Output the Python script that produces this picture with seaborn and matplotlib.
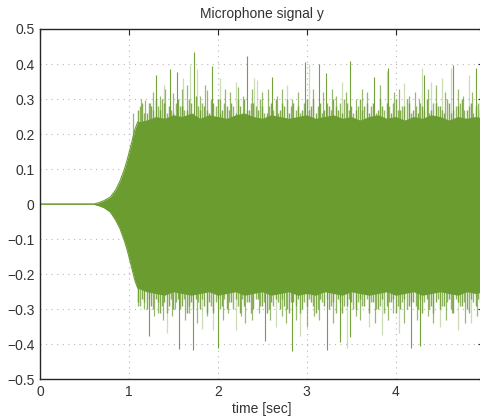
import numpy as np
import pandas as pd
import matplotlib
matplotlib.use("Agg")
import matplotlib.pyplot as plt
import seaborn as sns

# solid envelope of the dense part of the signal
env_t = [0.0, 0.60, 0.66, 0.72, 0.79, 0.85, 0.90, 0.95, 0.98, 1.01, 1.04, 1.07, 1.10,
         1.2, 1.3, 1.4, 1.5, 1.6, 1.7, 1.8, 1.9, 2.0, 2.1, 2.2, 2.3, 2.4, 2.5, 2.6, 2.7, 2.8, 2.9,
         3.0, 3.1, 3.2, 3.3, 3.4, 3.5, 3.6, 3.7, 3.8, 3.9, 4.0, 4.1, 4.2, 4.3, 4.4, 4.5, 4.6, 4.7,
         4.8, 4.9, 5.0]
env_up = [0.0, 0.0, 0.004, 0.010, 0.020, 0.040, 0.066, 0.100, 0.126, 0.155, 0.185, 0.215, 0.235,
          0.24, 0.25, 0.245, 0.255, 0.25, 0.26, 0.245, 0.255, 0.25, 0.245, 0.255, 0.26, 0.25, 0.245,
          0.255, 0.25, 0.245, 0.25, 0.255, 0.245, 0.25, 0.255, 0.245, 0.25, 0.24, 0.25, 0.255, 0.245,
          0.25, 0.24, 0.25, 0.245, 0.255, 0.25, 0.24, 0.25, 0.245, 0.25, 0.245]
env_lo = [0.0, 0.0, -0.004, -0.010, -0.022, -0.045, -0.070, -0.105, -0.130, -0.160, -0.190, -0.220, -0.240,
          -0.25, -0.255, -0.26, -0.25, -0.255, -0.26, -0.255, -0.25, -0.26, -0.255, -0.25, -0.26, -0.255,
          -0.25, -0.26, -0.255, -0.25, -0.26, -0.255, -0.26, -0.25, -0.255, -0.26, -0.25, -0.255, -0.26,
          -0.255, -0.25, -0.26, -0.255, -0.25, -0.26, -0.255, -0.25, -0.255, -0.26, -0.25, -0.255, -0.25]

# ragged hair along the band edge, one peak every 0.05 s from 1.10 s
up_edge = [0.27, 0.29, 0.26, 0.28, 0.30, 0.27, 0.29, 0.28, 0.26, 0.30,
           0.28, 0.27, 0.29, 0.31, 0.27, 0.28, 0.26, 0.29, 0.30, 0.27,
           0.28, 0.29, 0.26, 0.28, 0.30, 0.27, 0.29, 0.27, 0.28, 0.26,
           0.29, 0.30, 0.27, 0.28, 0.26, 0.29, 0.28, 0.27, 0.30, 0.28,
           0.26, 0.29, 0.27, 0.28, 0.30, 0.27, 0.26, 0.29, 0.28, 0.27,
           0.30, 0.28, 0.26, 0.29, 0.27, 0.28, 0.29, 0.26, 0.30, 0.27,
           0.28, 0.29, 0.27, 0.26, 0.28, 0.30, 0.27, 0.29, 0.28, 0.26,
           0.29, 0.27, 0.28, 0.30, 0.27, 0.29, 0.28, 0.27]
up_edge2 = [0.28, 0.26, 0.29, 0.27, 0.28, 0.30, 0.26, 0.27, 0.29, 0.28,
            0.27, 0.30, 0.26, 0.28, 0.29, 0.27, 0.30, 0.28, 0.26, 0.29,
            0.27, 0.28, 0.30, 0.26, 0.27, 0.29, 0.28, 0.30, 0.26, 0.28,
            0.27, 0.26, 0.29, 0.30, 0.28, 0.27, 0.26, 0.29, 0.27, 0.30,
            0.28, 0.26, 0.29, 0.27, 0.28, 0.29, 0.30, 0.27, 0.26, 0.28,
            0.27, 0.29, 0.28, 0.26, 0.30, 0.27, 0.28, 0.29, 0.27, 0.28,
            0.30, 0.26, 0.28, 0.29, 0.27, 0.26, 0.29, 0.28, 0.27, 0.30,
            0.26, 0.28, 0.29, 0.27, 0.28, 0.26, 0.29, 0.28]
lo_edge = [-0.28, -0.27, -0.30, -0.29, -0.27, -0.31, -0.28, -0.29, -0.30, -0.27,
           -0.29, -0.31, -0.28, -0.27, -0.30, -0.29, -0.28, -0.31, -0.27, -0.29,
           -0.30, -0.28, -0.27, -0.31, -0.29, -0.28, -0.30, -0.27, -0.29, -0.31,
           -0.28, -0.27, -0.30, -0.29, -0.31, -0.28, -0.27, -0.30, -0.29, -0.28,
           -0.31, -0.27, -0.29, -0.30, -0.28, -0.27, -0.31, -0.29, -0.28, -0.30,
           -0.27, -0.29, -0.31, -0.28, -0.30, -0.27, -0.29, -0.28, -0.31, -0.30,
           -0.27, -0.29, -0.28, -0.30, -0.31, -0.27, -0.29, -0.28, -0.30, -0.29,
           -0.27, -0.31, -0.28, -0.29, -0.30, -0.27, -0.29, -0.28]
lo_edge2 = [-0.29, -0.28, -0.27, -0.30, -0.28, -0.29, -0.31, -0.27, -0.28, -0.30,
            -0.27, -0.29, -0.30, -0.28, -0.27, -0.31, -0.29, -0.28, -0.30, -0.27,
            -0.28, -0.30, -0.29, -0.27, -0.28, -0.31, -0.27, -0.29, -0.28, -0.30,
            -0.29, -0.28, -0.27, -0.30, -0.28, -0.29, -0.31, -0.28, -0.27, -0.29,
            -0.30, -0.28, -0.27, -0.29, -0.31, -0.28, -0.29, -0.27, -0.30, -0.28,
            -0.29, -0.27, -0.28, -0.30, -0.29, -0.31, -0.28, -0.27, -0.29, -0.28,
            -0.30, -0.28, -0.29, -0.27, -0.28, -0.30, -0.31, -0.27, -0.29, -0.28,
            -0.30, -0.27, -0.29, -0.28, -0.31, -0.28, -0.27, -0.29]
edge_t = np.linspace(1.10, 4.95, len(up_edge))

# strongest peaks
up_strong_t = [1.30, 1.46, 1.54, 1.73, 1.94, 2.33, 2.61, 2.98, 3.14, 3.22, 3.49, 3.76, 3.92, 4.32, 4.65, 4.91]
up_strong_v = [0.370, 0.386, 0.377, 0.435, 0.395, 0.423, 0.362, 0.405, 0.400, 0.373, 0.410, 0.363, 0.390, 0.370, 0.397, 0.390]
lo_strong_t = [1.23, 1.56, 1.72, 2.00, 2.53, 2.83, 3.23, 3.37, 3.49, 4.17, 4.28]
lo_strong_v = [-0.377, -0.414, -0.417, -0.410, -0.390, -0.420, -0.417, -0.394, -0.380, -0.410, -0.404]

# faint peaks
up_faint_t = [1.39, 1.61, 1.69, 1.77, 2.03, 2.20, 2.41, 2.44, 2.78, 3.03, 3.40, 3.90, 4.10, 4.30, 4.40, 4.52, 4.62, 4.83]
up_faint_v = [0.340, 0.360, 0.397, 0.386, 0.360, 0.350, 0.360, 0.355, 0.340, 0.400, 0.350, 0.380, 0.345, 0.390, 0.350, 0.360, 0.390, 0.370]
lo_faint_t = [1.43, 1.82, 1.95, 2.20, 2.65, 2.93, 3.45, 3.70, 3.85, 4.04, 4.50, 4.70, 4.85]
lo_faint_v = [-0.367, -0.355, -0.360, -0.360, -0.350, -0.377, -0.410, -0.350, -0.374, -0.367, -0.350, -0.360, -0.340]

# medium peaks
up_mid_t = [1.05, 1.14, 1.18, 1.24, 1.27, 1.35, 1.41, 1.50, 1.60, 1.65, 1.80, 1.86, 1.88, 2.03, 2.08,
            2.14, 2.23, 2.28, 2.38, 2.50, 2.56, 2.67, 2.72, 2.84, 2.90, 3.07, 3.18, 3.28, 3.33, 3.44,
            3.56, 3.62, 3.68, 3.82, 3.98, 4.04, 4.15, 4.22, 4.26, 4.36, 4.46, 4.56, 4.70, 4.76, 4.86, 4.95]
up_mid_v = [0.26, 0.30, 0.297, 0.29, 0.32, 0.31, 0.33, 0.316, 0.33, 0.34, 0.31, 0.34, 0.327, 0.30, 0.33,
            0.32, 0.335, 0.31, 0.33, 0.32, 0.33, 0.31, 0.33, 0.30, 0.32, 0.33, 0.32, 0.33, 0.31, 0.32,
            0.30, 0.33, 0.32, 0.34, 0.32, 0.33, 0.31, 0.32, 0.30, 0.33, 0.34, 0.32, 0.33, 0.31, 0.32, 0.33]
lo_mid_t = [1.10, 1.17, 1.28, 1.33, 1.38, 1.48, 1.52, 1.63, 1.68, 1.77, 1.88, 2.06, 2.12, 2.26, 2.31,
            2.39, 2.46, 2.59, 2.72, 2.77, 2.88, 3.00, 3.08, 3.14, 3.30, 3.55, 3.60, 3.77, 3.92, 3.97,
            4.09, 4.24, 4.36, 4.42, 4.57, 4.64, 4.78, 4.92]
lo_mid_v = [-0.29, -0.30, -0.32, -0.31, -0.33, -0.32, -0.30, -0.33, -0.31, -0.34, -0.32, -0.33, -0.31, -0.32, -0.34,
            -0.33, -0.31, -0.33, -0.32, -0.34, -0.33, -0.35, -0.32, -0.33, -0.34, -0.32, -0.33, -0.34, -0.33, -0.31,
            -0.34, -0.33, -0.32, -0.34, -0.33, -0.31, -0.34, -0.32]

x_ticks = [0, 1, 2, 3, 4, 5]
x_labels = ["0", "1", "2", "3", "4", ""]
y_ticks = [-0.5, -0.4, -0.3, -0.2, -0.1, 0, 0.1, 0.2, 0.3, 0.4, 0.5]
y_labels = ["\u22120.5", "\u22120.4", "\u22120.3", "\u22120.2", "\u22120.1", "0",
            "0.1", "0.2", "0.3", "0.4", "0.5"]

GREEN = "#6b9c2f"
TXT = "#333333"

sns.set_theme(style="white")
plt.rcParams["font.family"] = ["Liberation Sans", "DejaVu Sans"]

fig = plt.figure(figsize=(4.8, 4.17), dpi=100)
ax = fig.add_axes([40 / 480, 1 - 379.3 / 417, 444.5 / 480, 350.3 / 417])

env = pd.DataFrame({"t": env_t, "up": env_up, "lo": env_lo})
ax.fill_between(env["t"], env["lo"], env["up"], color=GREEN, lw=0, zorder=2)
# the flat start and onset as a thin trace
onset = env[env["t"] <= 1.10]
sns.lineplot(data=onset, x="t", y="up", color=GREEN, lw=0.8, ax=ax, zorder=2)
sns.lineplot(data=onset, x="t", y="lo", color=GREEN, lw=0.8, ax=ax, zorder=2)

ax.vlines(edge_t, 0, up_edge, color=GREEN, lw=1.0, alpha=0.85, zorder=2)
ax.vlines(edge_t + 0.025, 0, up_edge2, color=GREEN, lw=1.0, alpha=0.75, zorder=2)
ax.vlines(edge_t, 0, lo_edge, color=GREEN, lw=1.0, alpha=0.85, zorder=2)
ax.vlines(edge_t + 0.025, 0, lo_edge2, color=GREEN, lw=1.0, alpha=0.75, zorder=2)
ax.vlines(up_mid_t, 0, up_mid_v, color=GREEN, lw=0.9, alpha=0.7, zorder=2)
ax.vlines(lo_mid_t, 0, lo_mid_v, color=GREEN, lw=0.9, alpha=0.7, zorder=2)
ax.vlines(up_faint_t, 0, up_faint_v, color=GREEN, lw=0.9, alpha=0.35, zorder=2)
ax.vlines(lo_faint_t, 0, lo_faint_v, color=GREEN, lw=0.9, alpha=0.35, zorder=2)
ax.vlines(up_strong_t, 0, up_strong_v, color=GREEN, lw=0.8, alpha=0.95, zorder=2)
ax.vlines(lo_strong_t, 0, lo_strong_v, color=GREEN, lw=0.8, alpha=0.95, zorder=2)

ax.set_xlim(0, 5)
ax.set_ylim(-0.5, 0.5)
ax.set_xticks(x_ticks)
ax.set_xticklabels(x_labels)
ax.set_yticks(y_ticks)
ax.set_yticklabels(y_labels)

ax.set_axisbelow(True)
ax.grid(True, color="#b8b8b8", lw=0.8, linestyle=(0, (1, 4)))
ax.tick_params(direction="in", length=4, width=0.8, colors="#262626",
               labelcolor=TXT, labelsize=10, top=True, right=True, pad=4)
for s in ax.spines.values():
    s.set_color("#262626")
    s.set_linewidth(1.0)

ax.set_title("Microphone signal y", fontsize=10, color=TXT, pad=8)
ax.set_xlabel("time [sec]", fontsize=10, color=TXT, labelpad=2)
ax.set_ylabel("")

fig.savefig("out.png", dpi=100)
